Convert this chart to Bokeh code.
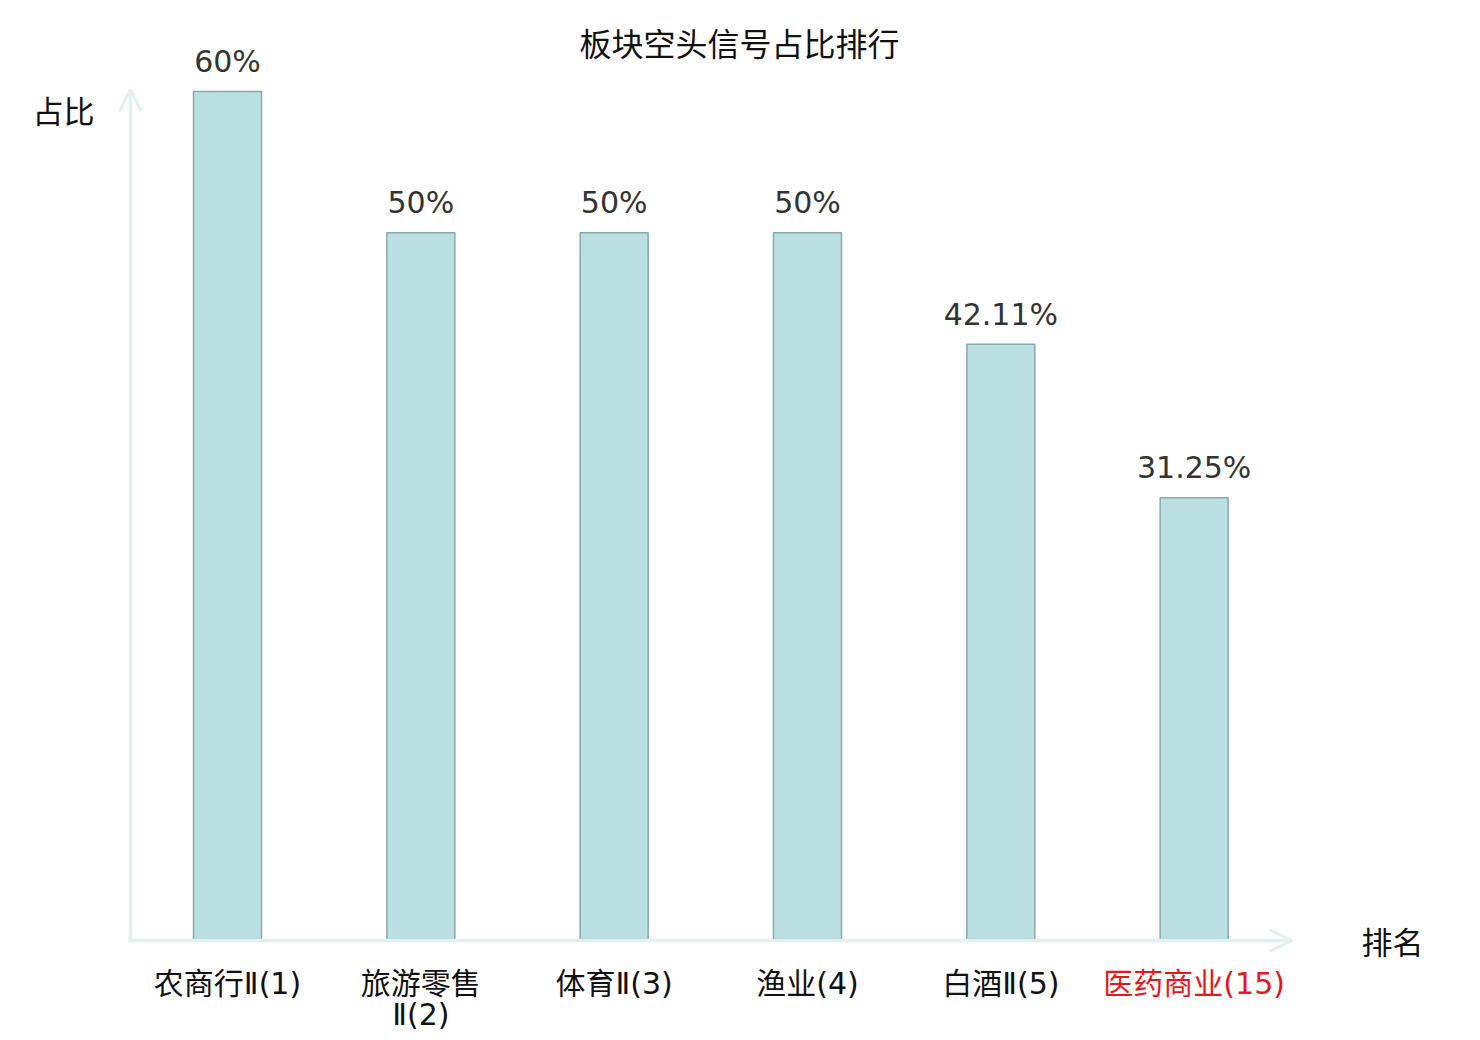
from bokeh.plotting import figure
from bokeh.models import Range1d, ColumnDataSource, Arrow, OpenHead
from bokeh.core.properties import value
from bokeh.embed import file_html
from bokeh.resources import INLINE

# ---- data ----
categories = ["农商行Ⅱ(1)", "旅游零售\nⅡ(2)", "体育Ⅱ(3)", "渔业(4)", "白酒Ⅱ(5)", "医药商业(15)"]
values = [60, 50, 50, 50, 42.11, 31.25]
value_labels = ["60%", "50%", "50%", "50%", "42.11%", "31.25%"]
label_colors = ["#111111", "#111111", "#111111", "#111111", "#111111", "#e8171b"]
title_text = "板块空头信号占比排行"
y_name = "占比"
x_name = "排名"

W, H = 1472, 1040
# pixel geometry (figure px) -> data
X0, DX = 227.0, 193.33     # px of category 0, px per category
Y0, DY = 939.0, 14.133     # px of value 0, px per percent

def dx(px):
    return (px - X0) / DX

def dy(py):
    return (Y0 - py) / DY

p = figure(width=W, height=H, output_backend="svg", toolbar_location=None,
           x_range=Range1d(dx(0), dx(W)), y_range=Range1d(dy(H), dy(0)),
           min_border=0, outline_line_color=None)
p.axis.visible = False
p.grid.visible = False

idx = list(range(len(categories)))
line1 = [c.split("\n")[0] for c in categories]
line2 = [c.split("\n")[1] if "\n" in c else "" for c in categories]
src = ColumnDataSource(dict(x=idx, top=values, lab=value_labels,
                            l1=line1, l2=line2, col=label_colors))

axis_col = "#dff2f0"
# x axis arrow
p.add_layout(Arrow(end=OpenHead(size=22, line_color=axis_col, line_width=3),
                   x_start=dx(128), y_start=dy(940), x_end=dx(1291), y_end=dy(940),
                   line_color=axis_col, line_width=3.5))
# y axis arrow
p.add_layout(Arrow(end=OpenHead(size=22, line_color=axis_col, line_width=3),
                   x_start=dx(130), y_start=dy(942), x_end=dx(130), y_end=dy(89),
                   line_color=axis_col, line_width=3.5))

p.vbar(x="x", top="top", bottom=0, width=68 / DX, source=src,
       fill_color="#bbe0e3", line_color="#8aa8aa", line_width=1.5)

p.text(x="x", y="top", text="lab", source=src, y_offset=-30,
       text_align="center", text_baseline="middle",
       text_font=value("DejaVu Sans"), text_font_size="30px", text_color="#333333")

tick_font = value("DejaVu Sans, Noto Sans CJK SC")
p.text(x="x", y=dy(983), text="l1", source=src,
       text_align="center", text_baseline="middle",
       text_font=tick_font, text_font_size="30px", text_color="col")
p.text(x="x", y=dy(1014), text="l2", source=src,
       text_align="center", text_baseline="middle",
       text_font=tick_font, text_font_size="30px", text_color="col")

p.text(x=[dx(739)], y=[dy(41)], text=[title_text], text_align="center",
       text_baseline="middle", text_font=value("Noto Sans CJK SC"),
       text_font_size="32px", text_color="#111111")
p.text(x=[dx(63)], y=[dy(109)], text=[y_name], text_align="center",
       text_baseline="middle", text_font=value("Noto Sans CJK SC"),
       text_font_size="31px", text_color="#111111")
p.text(x=[dx(1392)], y=[dy(940)], text=[x_name], text_align="center",
       text_baseline="middle", text_font=value("Noto Sans CJK SC"),
       text_font_size="31px", text_color="#111111")

open("out.html", "w").write(file_html(p, INLINE))
